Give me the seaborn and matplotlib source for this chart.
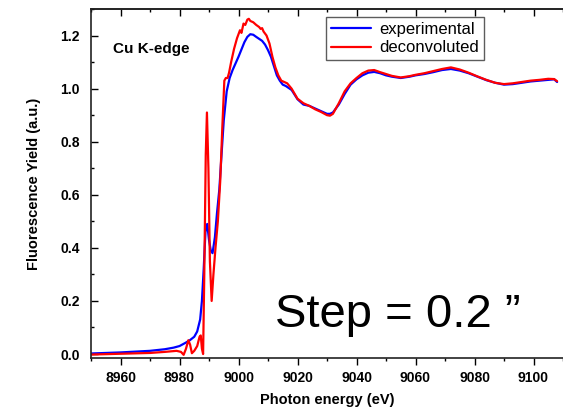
import matplotlib
matplotlib.use("Agg")
import matplotlib.pyplot as plt
from matplotlib.ticker import MultipleLocator
import seaborn as sns

# experimental spectrum
energy_exp = [8950, 8955, 8960, 8965, 8970, 8975, 8978, 8980, 8982, 8983.5, 8985, 8986, 8987,
              8987.6, 8988.2, 8988.8, 8989.4, 8990, 8990.6, 8991.2, 8992, 8992.7, 8993.5, 8994.3,
              8995, 8996, 8997, 8998, 9000, 9002, 9003, 9004, 9005, 9006, 9008, 9009, 9010, 9011,
              9012, 9013, 9014, 9015, 9016, 9018, 9020, 9022, 9024, 9026, 9028, 9030, 9031, 9032,
              9034, 9036, 9038, 9040, 9042, 9044, 9046, 9048, 9050, 9052, 9055, 9058, 9060, 9063,
              9066, 9069, 9072, 9075, 9078, 9081, 9084, 9087, 9090, 9093, 9096, 9099, 9102, 9105,
              9107, 9108]
yield_exp = [0.002, 0.004, 0.006, 0.009, 0.012, 0.018, 0.024, 0.030, 0.042, 0.052, 0.065, 0.085, 0.13,
             0.20, 0.32, 0.46, 0.49, 0.43, 0.39, 0.38, 0.44, 0.53, 0.62, 0.76,
             0.88, 0.99, 1.04, 1.07, 1.12, 1.175, 1.195, 1.205, 1.203, 1.195, 1.18, 1.166, 1.145, 1.12,
             1.085, 1.05, 1.03, 1.015, 1.01, 0.995, 0.96, 0.94, 0.935, 0.925, 0.915, 0.905, 0.905, 0.91,
             0.94, 0.98, 1.015, 1.035, 1.05, 1.06, 1.063, 1.058, 1.05, 1.045, 1.04, 1.045, 1.05, 1.055,
             1.062, 1.07, 1.074, 1.068, 1.058, 1.045, 1.032, 1.022, 1.015, 1.017, 1.022, 1.027, 1.03, 1.033,
             1.035, 1.025]

# deconvoluted spectrum
energy_dec = [8950, 8960, 8970, 8975, 8979, 8980.5, 8981.4, 8982.2, 8983.0, 8983.6, 8984.2, 8985, 8986,
              8986.8, 8987.2, 8987.6, 8988.0, 8988.4, 8988.9, 8989.3, 8989.8, 8990.3, 8990.9, 8991.5,
              8992.2, 8993, 8993.8, 8994.5, 8995.2, 8995.7, 8996.3, 8996.8, 8997.5, 8998.5, 8999.5,
              9000.5, 9001, 9001.7, 9002.3, 9003, 9003.5, 9004, 9005, 9006, 9007, 9007.5, 9008, 9008.5,
              9009.5, 9010.5, 9011.5, 9012.5, 9013.5, 9014.5, 9015.5, 9016.5, 9018, 9020, 9022, 9024,
              9026, 9028, 9030, 9031, 9032, 9034, 9036, 9038, 9040, 9042, 9044, 9046, 9048, 9050, 9052,
              9055, 9058, 9060, 9063, 9066, 9069, 9072, 9075, 9078, 9081, 9084, 9087, 9090, 9093, 9096,
              9099, 9102, 9105, 9107, 9108]
yield_dec = [-0.002, 0.001, 0.004, 0.008, 0.012, 0.008, -0.003, 0.02, 0.052, 0.035, 0.003, 0.012, 0.03,
             0.065, 0.07, 0.02, 0.0, 0.30, 0.75, 0.91, 0.70, 0.35, 0.20, 0.30,
             0.40, 0.50, 0.65, 0.85, 1.03, 1.04, 1.04, 1.06, 1.10, 1.15, 1.19,
             1.22, 1.21, 1.245, 1.24, 1.26, 1.263, 1.255, 1.25, 1.24, 1.232, 1.225, 1.228, 1.215,
             1.20, 1.17, 1.12, 1.08, 1.05, 1.03, 1.025, 1.02, 1.0, 0.962, 0.945, 0.935,
             0.922, 0.912, 0.90, 0.898, 0.905, 0.945, 0.99, 1.02, 1.04, 1.058, 1.068, 1.07, 1.062, 1.055, 1.048,
             1.042, 1.047, 1.052, 1.058, 1.066, 1.074, 1.08, 1.072, 1.06, 1.046, 1.033, 1.022, 1.017, 1.02, 1.025,
             1.03, 1.033, 1.037, 1.036, 1.028]

sns.set_style("ticks")
plt.rcParams["font.family"] = ["Liberation Sans", "DejaVu Sans"]
plt.rcParams["text.color"] = "black"
plt.rcParams["axes.labelcolor"] = "black"
plt.rcParams["xtick.color"] = "black"
plt.rcParams["ytick.color"] = "black"

fig = plt.figure(figsize=(5.63, 4.11), dpi=100)
ax = fig.add_axes([91 / 563, 53 / 411, 472 / 563, 349 / 411])

sns.lineplot(x=energy_exp, y=yield_exp, color="#0000ff", lw=1.6, sort=False,
             label="experimental", ax=ax)
sns.lineplot(x=energy_dec, y=yield_dec, color="#ff0000", lw=1.6, sort=False,
             label="deconvoluted", ax=ax)

ax.set_xlim(8950, 9110)
ax.set_ylim(-0.015, 1.30)
ax.xaxis.set_major_locator(MultipleLocator(20))
ax.xaxis.set_minor_locator(MultipleLocator(10))
ax.yaxis.set_major_locator(MultipleLocator(0.2))
ax.yaxis.set_minor_locator(MultipleLocator(0.1))
ax.yaxis.set_major_formatter(plt.FormatStrFormatter("%.1f"))

ax.tick_params(axis="x", which="major", direction="out", length=5, width=1, labelsize=10, pad=4)
ax.tick_params(axis="x", which="minor", direction="out", length=2.5, width=1)
ax.tick_params(axis="y", which="major", direction="in", length=5, width=1, labelsize=10, pad=8)
ax.tick_params(axis="y", which="minor", direction="in", length=2.5, width=1)
for lab in ax.get_xticklabels() + ax.get_yticklabels():
    lab.set_fontweight("bold")

top = ax.secondary_xaxis("top")
top.xaxis.set_major_locator(MultipleLocator(20))
top.xaxis.set_minor_locator(MultipleLocator(10))
top.tick_params(axis="x", which="major", direction="in", length=5, width=1, labeltop=False)
top.tick_params(axis="x", which="minor", direction="in", length=2.5, width=1)

for side in ["left", "bottom", "top"]:
    ax.spines[side].set_linewidth(1.2)
    ax.spines[side].set_color("#222222")
top.spines["top"].set_linewidth(1.2)
ax.spines["right"].set_visible(False)

ax.set_xlabel("Photon energy (eV)", fontsize=10.5, fontweight="bold", labelpad=6)
ax.set_ylabel("Fluorescence Yield (a.u.)", fontsize=10.5, fontweight="bold", labelpad=14)

ax.text(0.047, 0.875, "Cu K-edge", transform=ax.transAxes, fontsize=11,
        fontweight="bold", ha="left", va="baseline")
ax.text(0.649, 0.089, "Step = 0.2 \u201d", transform=ax.transAxes, fontsize=34,
        ha="center", va="baseline")

leg = ax.legend(loc="upper left", bbox_to_anchor=(0.498, 0.977), borderaxespad=0,
                fontsize=12, frameon=True, fancybox=False, handlelength=2.4,
                borderpad=0.3, labelspacing=0.2, handletextpad=0.5)
leg.get_frame().set_edgecolor("#333333")
leg.get_frame().set_linewidth(1.0)

fig.savefig("out.png", dpi=100)
